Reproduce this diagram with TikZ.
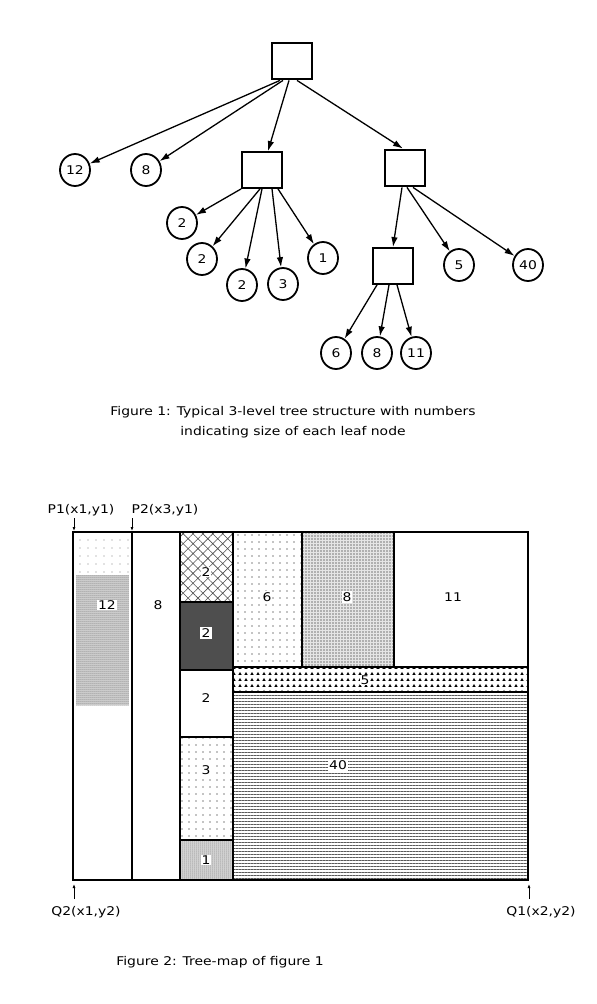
\documentclass[tikz,border=0pt]{standalone}
\usepackage{fontspec}
\setmainfont{DejaVu Sans}[FakeStretch=1.16]
\usetikzlibrary{arrows.meta,patterns.meta,shapes.geometric}
\usetikzlibrary{positioning}

\begin{document}
\begin{tikzpicture}[x=1pt,y=-1pt,font=\fontsize{12}{14}\selectfont,
inner/.style={draw,line width=1.8pt,minimum width=40pt,minimum height=36pt,inner sep=0pt},
outer/.style={inner,line width=2.8pt},
leaf/.style={draw,ellipse,line width=1.8pt,minimum width=30pt,minimum height=32pt,inner sep=0pt},
link/.style={-{Latex[length=10pt,width=6.5pt]},line width=1.3pt},
tick/.style={-{Latex[length=4pt,width=3pt]},line width=0.8pt},
cell/.style={line width=1.4pt},
clear/.style={fill=white,inner sep=1pt}]
\useasboundingbox (0,0) rectangle (597,1004);
% tree
\node[outer] (root) at (292,61) {};
\node[leaf] (l12) at (75,170) {12};
\node[leaf] (l8) at (146,170) {8};
\node[inner] (a) at (262,170) {};
\node[outer] (b) at (405,168) {};
\node[leaf] (a1) at (182,223) {2};
\node[leaf] (a2) at (202,259) {2};
\node[leaf] (a3) at (242,285) {2};
\node[leaf] (a4) at (283,284) {3};
\node[leaf] (a5) at (323,258) {1};
\node[inner] (c) at (393,266) {};
\node[leaf] (b1) at (459,265) {5};
\node[leaf] (b2) at (528,265) {40};
\node[leaf] (c1) at (336,353) {6};
\node[leaf] (c2) at (377,353) {8};
\node[leaf] (c3) at (416,353) {11};
\path[link] ([xshift=-12pt]root.south) edge (l12)
		 ([xshift=-9pt]root.south) edge (l8)
		 ([xshift=-3pt]root.south) edge ([xshift=6pt]a.north)
		 ([xshift=5pt]root.south) edge ([xshift=-2pt]b.north)
		 (a.south west) edge (a1)
		 ([xshift=-2pt]a.south) edge (a2)
		 (a.south) edge (a3)
		 ([xshift=10pt]a.south) edge (a4)
		 ([xshift=16pt]a.south) edge (a5)
		 ([xshift=-3pt]b.south) edge (c.north)
		 ([xshift=2pt]b.south) edge (b1)
		 ([xshift=8pt]b.south) edge (b2)
		 ([xshift=-16pt]c.south) edge (c1)
		 ([xshift=-4pt]c.south) edge (c2)
		 ([xshift=4pt]c.south) edge (c3);
\node (cap1) at (293,412) {Figure 1: Typical 3-level tree structure with numbers};
\node[below=2pt of cap1] (cap1b) {indicating size of each leaf node};
% tree-map fills
\fill[pattern={Dots[distance=8pt,radius=0.6pt]},pattern color=gray] (76,535) rectangle (129,575);
\fill[gray!30] (76,575) rectangle (129,705);
\fill[pattern={Dots[distance=2pt,radius=0.5pt]},pattern color=black!80] (76,575) rectangle (129,705);
\fill[pattern={Hatch[distance=7pt,angle=45,line width=0.6pt]},pattern color=black!70] (180,532) rectangle (233,602);
\fill[black!60] (180,602) rectangle (233,670);
\fill[pattern={Dots[distance=2pt,radius=0.6pt]}] (180,602) rectangle (233,670);
\fill[pattern={Dots[distance=7pt,radius=0.6pt]}] (180,737) rectangle (233,840);
\fill[gray!25] (180,840) rectangle (233,880);
\fill[pattern={Dots[distance=2pt,radius=0.5pt]},pattern color=black!75] (180,840) rectangle (233,880);
\fill[pattern={Dots[distance=7pt,radius=0.6pt]}] (233,532) rectangle (302,667);
\fill[gray!20] (302,532) rectangle (394,667);
\fill[pattern={Dots[distance=3pt,radius=0.65pt]}] (302,532) rectangle (394,667);
\fill[pattern={Stars[distance=6pt,radius=2pt,points=3]}] (233,667) rectangle (528,692);
\fill[pattern={Lines[distance=3pt,angle=0,line width=0.8pt]},pattern color=black!65] (233,692) rectangle (528,880);
% tree-map lines
\draw[cell,line width=2pt] (73,532) rectangle (528,880);
\draw[cell] (132,532) -- (132,880) (180,532) -- (180,880) (233,532) -- (233,880)
  (180,737) -- (233,737) (180,840) -- (233,840)
  (302,532) -- (302,667) (394,532) -- (394,667)
  (233,667) -- (528,667) (233,692) -- (528,692);
\draw[line width=2.4pt] (180,602) rectangle (233,670);
\node[clear] (t12) at (107,605) {12};
\node (t8) at (158,605) {8};
\node[clear] (t2a) at (206,572) {2};
\node[clear,inner sep=2pt] (t2b) at (206,633) {2};
\node (t2c) at (206,698) {2};
\node[clear] (t3) at (206,770) {3};
\node[clear] (t1) at (206,860) {1};
\node[clear] (t6) at (267,597) {6};
\node[clear] (t8b) at (347,597) {8};
\node (t11) at (453,597) {11};
\node[clear] (t5) at (365,680) {5};
\node[clear] (t40) at (338,765) {40};
% corner labels
\node (p1) at (81,510) {P1(x1,y1)};
\node (p2) at (165,510) {P2(x3,y1)};
\node (q2) at (86,912) {Q2(x1,y2)};
\node (q1) at (541,912) {Q1(x2,y2)};
\coordinate (p1s) at (74,518); \coordinate (p1t) at (74,531);
\coordinate (p2s) at (132,518); \coordinate (p2t) at (132,531);
\coordinate (q2s) at (74,899); \coordinate (q2t) at (74,884);
\coordinate (q1s) at (529,899); \coordinate (q1t) at (529,884);
\draw[tick] (p1s) -- (p1t);
\draw[tick] (p2s) -- (p2t);
\draw[tick] (q2s) -- (q2t);
\draw[tick] (q1s) -- (q1t);
\node (cap2) at (220,962) {Figure 2: Tree-map of figure 1};
\end{tikzpicture}
\end{document}
